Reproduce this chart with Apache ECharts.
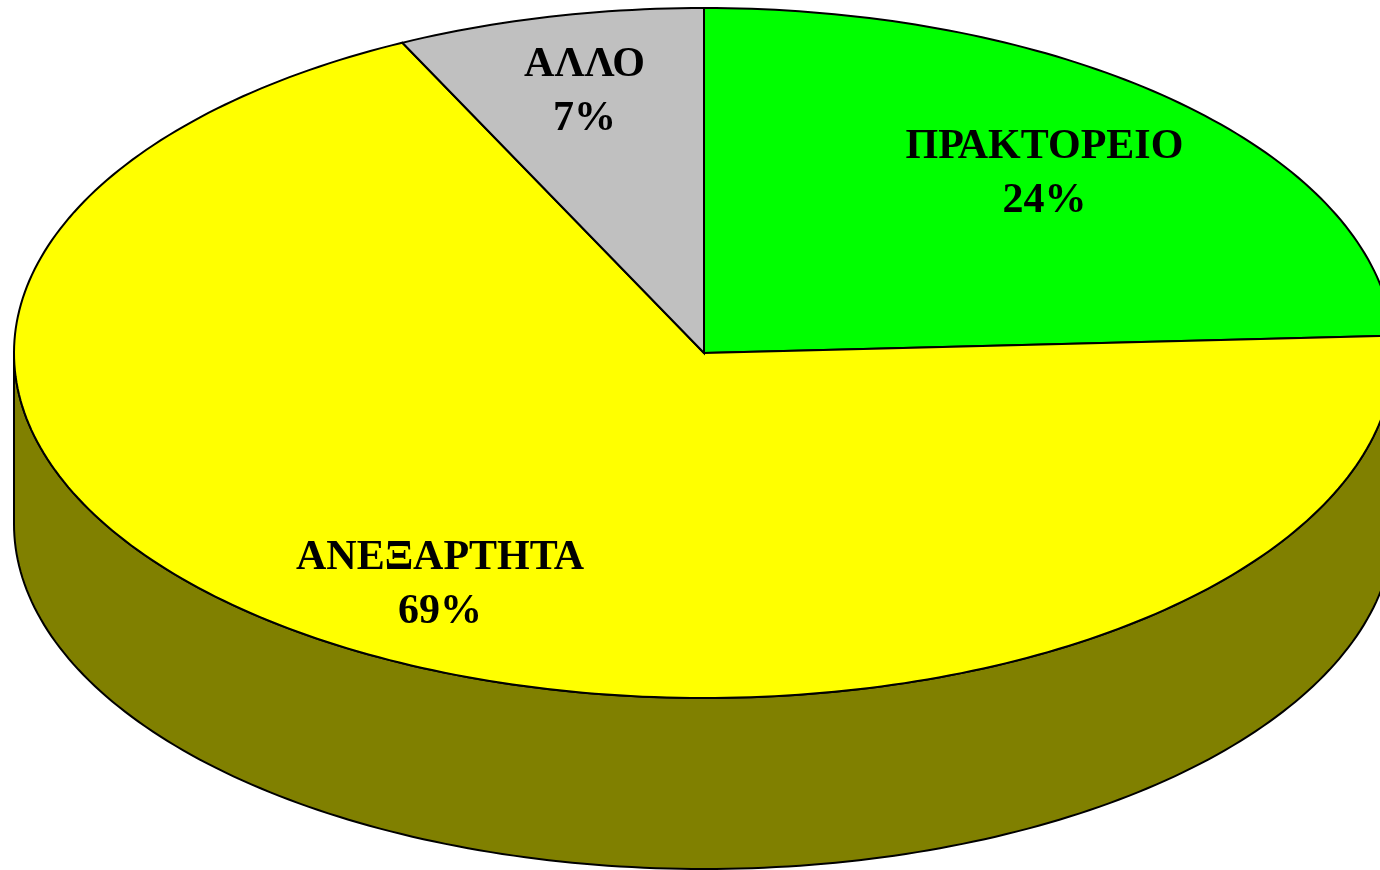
<!doctype html>
<html>
	<head>
		<meta charset="UTF-8">
		<title></title>
		<style>
			html, body { margin: 0; padding: 0; background: #fff; overflow: hidden; }
			#chart { width: 1380px; height: 870px; }
		</style>
	</head>

	<body>
		<div id="chart"></div>
		<script src="https://cdn.jsdelivr.net/npm/echarts@6/dist/echarts.min.js"></script>
		<script type="text/javascript">
			var categories = ['ΠΡΑΚΤΟΡΕΙΟ', 'ΑΝΕΞΑΡΤΗΤΑ', 'ΑΛΛΟ'];
			// read from the slice edges, the labels show them rounded
			var shares = [24.2, 68.6, 7.2];
			var sliceColors = ['#00ff00', '#ffff00', '#c0c0c0'];

			// tilted pie geometry
			var cx = 704, cy = 353, rx = 690, ry = 345, depth = 171;
			var labelCenters = [[1044.5, 174], [440, 585], [584.5, 92]];

			var total = shares.reduce(function (a, b) { return a + b; }, 0);

			function onEllipse(deg, dy) {
				var r = deg * Math.PI / 180;
				return [cx + rx * Math.sin(r), cy + (dy || 0) - ry * Math.cos(r)];
			}

			function arcPoints(from, to, dy) {
				var pts = [];
				var steps = Math.max(2, Math.ceil(Math.abs(to - from)));
				for (var i = 0; i <= steps; i++) {
					pts.push(onEllipse(from + (to - from) * i / steps, dy));
				}
				return pts;
			}

			function renderRim() {
				var pts = arcPoints(90, 270, 0).concat(arcPoints(270, 90, depth));
				return {
					type: 'polygon',
					shape: { points: pts },
					style: { fill: '#808000', stroke: '#000', lineWidth: 2 }
				};
			}

			function renderSlice(params, api) {
				var idx = params.dataIndex;
				var before = 0;
				for (var i = 0; i < idx; i++) before += shares[i];
				var from = before / total * 360;
				var to = (before + api.value(1)) / total * 360;
				var pts = [[cx, cy]].concat(arcPoints(from, to, 0));
				return {
					type: 'group',
					children: [{
						type: 'polygon',
						shape: { points: pts },
						style: { fill: sliceColors[idx], stroke: '#000', lineWidth: 2 }
					}, {
						type: 'text',
						z2: 10,
						x: labelCenters[idx][0],
						y: labelCenters[idx][1],
						style: {
							text: categories[idx] + '\n' + Math.round(api.value(1)) + '%',
							fill: '#000',
							font: 'bold 42px "Liberation Serif"',
							lineHeight: 54,
							align: 'center',
							verticalAlign: 'middle'
						}
					}]
				};
			}

			var myChart = echarts.init(document.getElementById('chart'));
			myChart.setOption({
				animation: false,
				backgroundColor: '#fff',
				series: [{
					type: 'custom',
					coordinateSystem: 'none',
					silent: true,
					renderItem: renderRim,
					data: [total]
				}, {
					type: 'custom',
					coordinateSystem: 'none',
					silent: true,
					renderItem: renderSlice,
					data: shares.map(function (v, i) { return [i, v]; })
				}]
			});
		</script>
	</body>
</html>
